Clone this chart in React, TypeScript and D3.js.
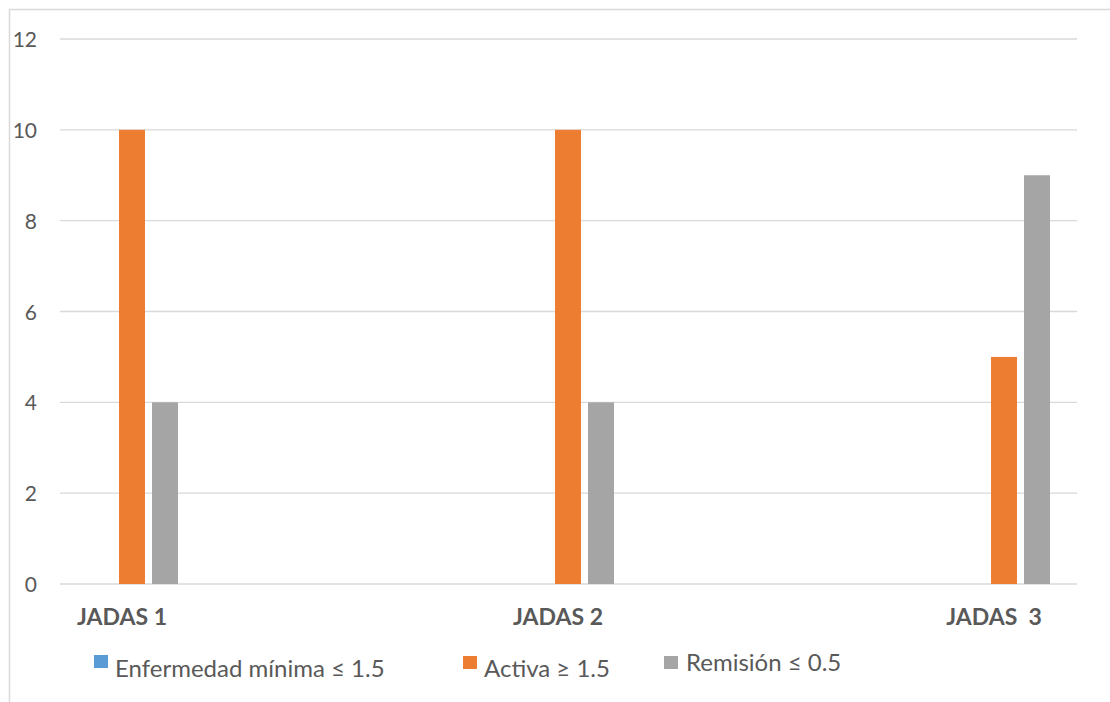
import React from "react";
import * as d3 from "d3";

const categories = ["JADAS 1", "JADAS 2", "JADAS  3"];
const seriesNames = ["Enfermedad mínima ≤ 1.5", "Activa ≥ 1.5", "Remisión ≤ 0.5"];
const enfermedadMinima = [0, 0, 0];
const activa = [10, 10, 5];
const remision = [4, 4, 9];
const yTicks = [0, 2, 4, 6, 8, 10, 12];
const seriesColors = ["#5B9BD5", "#ED7D31", "#A5A5A5"];

const W = 1110;
const H = 702;
const plotLeft = 60;
const plotRight = 1077;
const FONT = "Lato, 'Open Sans', sans-serif";
const TEXT = "#595959";
const GRID = "#D9D9D9";

export default function App() {
  const seriesValues = [enfermedadMinima, activa, remision];
  const y = d3.scaleLinear().domain([0, 12]).range([584, 39]);
  const x0 = d3.scalePoint<string>().domain(categories).range([132, 1004]);
  const x1 = d3
    .scaleBand<string>()
    .domain(seriesNames)
    .range([-49.5, 49.5])
    .paddingInner(7 / 33)
    .paddingOuter(3.5 / 33);

  const legendItems = [
    { sx: 94, sy: 655, tx: 115, ty: 677 },
    { sx: 463, sy: 656, tx: 484, ty: 677 },
    { sx: 664, sy: 656, tx: 686, ty: 671 },
  ];

  return (
    <div style={{ position: "fixed", left: 0, top: 0, width: W, height: H, background: "#fff" }}>
      <svg width={W} height={H} style={{ display: "block" }}>
        <rect x={0} y={0} width={W} height={H} fill="#fff" />
        {/* frame */}
        <line x1={9} x2={W} y1={9.5} y2={9.5} stroke={GRID} strokeWidth={1.5} />
        <line x1={9.5} x2={9.5} y1={9} y2={H} stroke={GRID} strokeWidth={1.5} />

        {/* gridlines */}
        {yTicks.map((t) => (
          <line
            key={"g" + t}
            x1={plotLeft}
            x2={plotRight}
            y1={y(t)}
            y2={y(t)}
            stroke={GRID}
            strokeWidth={1.3}
          />
        ))}
        {yTicks.map((t) => (
          <text
            key={"t" + t}
            x={37}
            y={y(t) + 8}
            textAnchor="end"
            fontFamily={FONT}
            fontSize={21}
            fill={TEXT}
          >
            {t}
          </text>
        ))}

        {/* bars */}
        {seriesNames.map((s, si) =>
          categories.map((c, ci) => {
            const v = seriesValues[si][ci];
            const bx = (x0(c) as number) + (x1(s) as number);
            return (
              <rect
                key={s + c}
                x={bx}
                y={y(v)}
                width={x1.bandwidth()}
                height={y(0) - y(v)}
                fill={seriesColors[si]}
              />
            );
          })
        )}

        {/* category labels */}
        {categories.map((c) => (
          <text
            key={"c" + c}
            x={(x0(c) as number) - 10}
            y={625}
            textAnchor="middle"
            fontFamily={FONT}
            fontWeight="bold"
            fontSize={23}
            fill={TEXT}
            style={{ whiteSpace: "pre" }}
          >
            {c}
          </text>
        ))}

        {/* legend */}
        {seriesNames.map((s, i) => (
          <g key={"l" + s}>
            <rect x={legendItems[i].sx} y={legendItems[i].sy} width={14} height={13} fill={seriesColors[i]} />
            <text
              x={legendItems[i].tx}
              y={legendItems[i].ty}
              fontFamily={FONT}
              fontSize={24}
              fill={TEXT}
            >
              {s}
            </text>
          </g>
        ))}
      </svg>
    </div>
  );
}
